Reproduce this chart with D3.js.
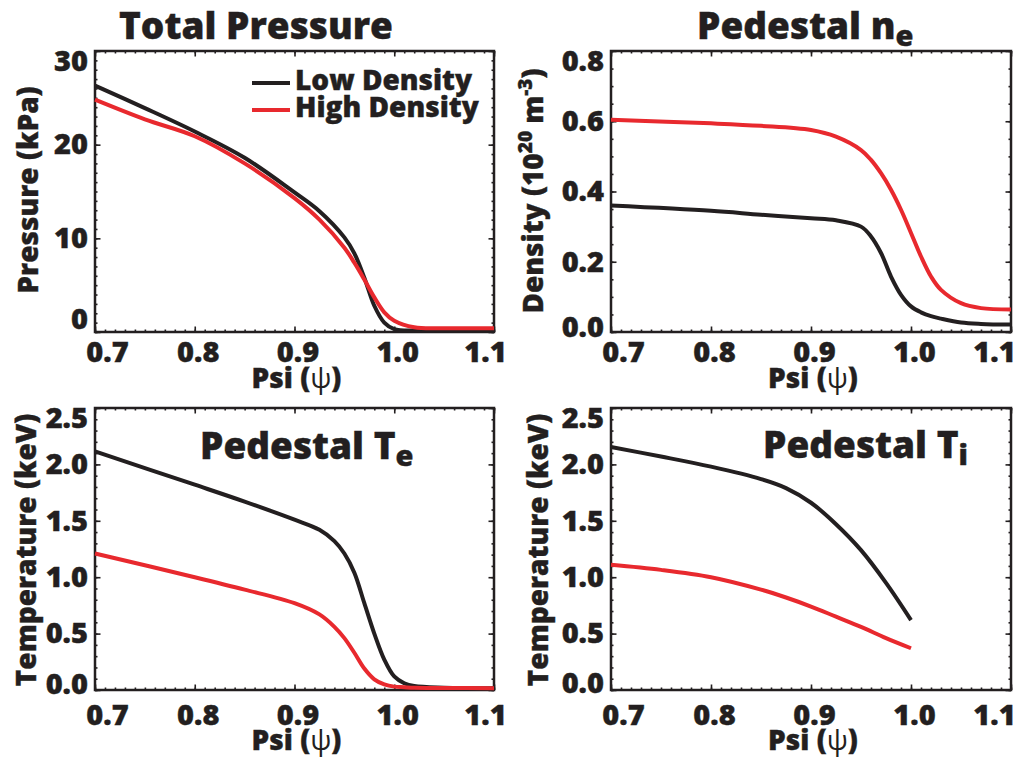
<!DOCTYPE html>
<html>
<head>
<meta charset="utf-8">
<style>
  body { margin: 0; background: #fff; }
  svg { display: block; font-family: 'Open Sans', sans-serif; font-weight: 800; fill: #231f20; }
  text { stroke: #231f20; stroke-width: 0.4; }
  .frame { fill: none; stroke: #231f20; stroke-width: 2.5; }
  .tick line { stroke: #231f20; stroke-width: 1.6; }
  .tick text { fill: #231f20; font-size: 29px; font-weight: 800; }
  .curve { fill: none; stroke-width: 4; stroke-linejoin: round; }
  .title { font-size: 37px; }
  .label { font-size: 28px; }
</style>
</head>
<body>
<svg width="1017" height="759"></svg>

<script src="https://d3js.org/d3.v7.min.js"></script>
<script>
    // ---- data ----
    const xTicks = [0.7, 0.8, 0.9, 1.0, 1.1];

    // total pressure (kPa)
    const psiPressure  = [0.70, 0.75, 0.80, 0.85, 0.90, 0.925, 0.95, 0.96, 0.97, 0.98, 0.99, 1.00, 1.02, 1.05, 1.10];
    const pressureLow  = [26.3, 23.9, 21.4, 18.6, 14.9, 12.9, 10.1, 8.4, 5.8, 2.8, 1.0, 0.3, 0.15, 0.2, 0.3];
    const pressureHigh = [24.8, 22.7, 20.9, 18.0, 14.3, 12.0, 9.0, 7.4, 5.6, 3.7, 2.1, 1.2, 0.5, 0.4, 0.4];
    const pressureTicks = [0, 10, 20, 30];

    // pedestal density (1e20 m^-3)
    const psiDensity  = [0.70, 0.80, 0.85, 0.90, 0.925, 0.95, 0.96, 0.97, 0.98, 0.99, 1.00, 1.01, 1.02, 1.03, 1.05, 1.07, 1.10];
    const densityLow  = [0.360, 0.345, 0.334, 0.324, 0.318, 0.300, 0.272, 0.225, 0.158, 0.106, 0.073, 0.056, 0.045, 0.038, 0.027, 0.023, 0.021];
    const densityHigh = [0.604, 0.594, 0.587, 0.575, 0.556, 0.518, 0.490, 0.452, 0.405, 0.348, 0.282, 0.215, 0.158, 0.120, 0.082, 0.068, 0.064];
    const densityTicks = [0.0, 0.2, 0.4, 0.6, 0.8];

    // pedestal Te (keV)
    const psiTe  = [0.70, 0.80, 0.85, 0.90, 0.925, 0.94, 0.95, 0.96, 0.97, 0.98, 0.99, 1.00, 1.01, 1.02, 1.05, 1.10];
    const teLow  = [2.115, 1.82, 1.67, 1.51, 1.42, 1.32, 1.21, 1.04, 0.77, 0.50, 0.27, 0.12, 0.06, 0.035, 0.02, 0.015];
    const teHigh = [1.21, 1.00, 0.89, 0.77, 0.67, 0.56, 0.46, 0.33, 0.19, 0.095, 0.05, 0.03, 0.025, 0.02, 0.018, 0.015];

    // pedestal Ti (keV)
    const psiTi  = [0.70, 0.75, 0.80, 0.85, 0.875, 0.90, 0.925, 0.95, 0.975, 1.00];
    const tiLow  = [2.154, 2.07, 1.98, 1.87, 1.79, 1.66, 1.47, 1.24, 0.95, 0.62];
    const tiHigh = [1.11, 1.065, 1.00, 0.89, 0.82, 0.74, 0.65, 0.56, 0.46, 0.37];
    const tempTicks = [0.0, 0.5, 1.0, 1.5, 2.0, 2.5];

    const seriesNames = ["Low Density", "High Density"];
    const colors = ["#231f20", "#e8292e"];

    let svg = d3.select("svg");

    function zip(xs, ys) {
        return xs.map((v, i) => ({ psi: v, val: ys[i] }));
    }

    let panels = [
        { left: 95, top: 51, right: 494, bottom: 332, yDomain: [0, 30], yTicks: pressureTicks, yMinor: 1,
          fmt: d3.format("d"), xPad: 9, topShift: 10, botShift: -13, xTitleY: 388,
          psi: psiPressure, low: pressureLow, high: pressureHigh },
        { left: 611, top: 51, right: 1011, bottom: 332, yDomain: [0, 0.8], yTicks: densityTicks, yMinor: 0.05,
          fmt: d3.format(".1f"), xPad: 9, topShift: 10, botShift: -5, xTitleY: 388,
          psi: psiDensity, low: densityLow, high: densityHigh },
        { left: 95, top: 408, right: 494, bottom: 690, yDomain: [0, 2.5], yTicks: tempTicks, yMinor: 0.1,
          fmt: d3.format(".1f"), xPad: 14, topShift: 10, botShift: -6, xTitleY: 750,
          psi: psiTe, low: teLow, high: teHigh },
        { left: 611, top: 408, right: 1011, bottom: 690, yDomain: [0, 2.5], yTicks: tempTicks, yMinor: 0.1,
          fmt: d3.format(".1f"), xPad: 14, topShift: 10, botShift: -7, xTitleY: 750,
          psi: psiTi, low: tiLow, high: tiHigh }
    ];

    panels.forEach((p, pi) => {
        let x = d3.scaleLinear().domain([0.7, 1.1]).range([p.left, p.right]);
        let y = d3.scaleLinear().domain(p.yDomain).range([p.bottom, p.top]);

        let xMinor = d3.range(70, 111).map(d => d / 100);
        let nY = Math.round((p.yDomain[1] - p.yDomain[0]) / p.yMinor);
        let yMinor = d3.range(0, nY + 1).map(i => p.yDomain[0] + i * p.yMinor);

        // minor ticks on all four sides
        svg.append("g").attr("transform", `translate(0,${p.bottom})`)
            .call(d3.axisBottom(x).tickValues(xMinor).tickSize(-2.5).tickFormat(""));
        svg.append("g").attr("transform", `translate(0,${p.top})`)
            .call(d3.axisTop(x).tickValues(xMinor).tickSize(-2.5).tickFormat(""));
        svg.append("g").attr("transform", `translate(${p.left},0)`)
            .call(d3.axisLeft(y).tickValues(yMinor).tickSize(-2.5).tickFormat(""));
        svg.append("g").attr("transform", `translate(${p.right},0)`)
            .call(d3.axisRight(y).tickValues(yMinor).tickSize(-2.5).tickFormat(""));

        // major ticks
        let xb = svg.append("g").attr("transform", `translate(0,${p.bottom})`)
            .call(d3.axisBottom(x).tickValues(xTicks).tickSize(-5.5).tickPadding(p.xPad).tickFormat(d3.format(".1f")));
        svg.append("g").attr("transform", `translate(0,${p.top})`)
            .call(d3.axisTop(x).tickValues(xTicks).tickSize(-5.5).tickFormat(""));
        let yl = svg.append("g").attr("transform", `translate(${p.left},0)`)
            .call(d3.axisLeft(y).tickValues(p.yTicks).tickSize(-5.5).tickPadding(7).tickFormat(p.fmt));
        svg.append("g").attr("transform", `translate(${p.right},0)`)
            .call(d3.axisRight(y).tickValues(p.yTicks).tickSize(-5.5).tickFormat(""));

        svg.selectAll(".domain").remove();
        svg.selectAll("g").attr("font-family", null).attr("font-size", null);

        // nudge end labels the way the figure has them
        xb.selectAll(".tick text").attr("dx", d => d === 0.7 ? 12 : (d === 1.1 ? (pi % 2 ? -17 : -9) : 3));
        let lo = p.yTicks[0], hi = p.yTicks[p.yTicks.length - 1];
        yl.selectAll(".tick text").attr("y", d => d === hi ? p.topShift : (d === lo ? p.botShift : 0));

        // frame
        svg.append("rect").attr("class", "frame")
            .attr("x", p.left).attr("y", p.top)
            .attr("width", p.right - p.left).attr("height", p.bottom - p.top);

        let line = d3.line()
            .x(d => x(d.psi))
            .y(d => y(d.val))
            .curve(d3.curveCatmullRom.alpha(0.5));

        [p.low, p.high].forEach((vals, si) => {
            svg.append("path")
                .datum(zip(p.psi, vals))
                .attr("class", "curve")
                .attr("d", line)
                .style("stroke", colors[si]);
        });

        // x axis title
        let xt = svg.append("text").attr("class", "label")
            .attr("x", (p.left + p.right) / 2 + 2)
            .attr("y", p.xTitleY)
            .attr("text-anchor", "middle");
        xt.append("tspan").text("Psi (");
        xt.append("tspan").style("font-weight", 400).style("stroke-width", 0).text("\u03c8");
        xt.append("tspan").text(")");
    });

    // y axis titles
    function yTitle(xpos, ycen) {
        return svg.append("text").attr("class", "label")
            .attr("text-anchor", "middle")
            .attr("transform", `translate(${xpos},${ycen}) rotate(-90)`);
    }
    yTitle(38, 190).text("Pressure (kPa)");
    let dt = yTitle(543, 191);
    dt.append("tspan").text("Density (10");
    dt.append("tspan").attr("dy", -11).style("font-size", "19px").text("20");
    dt.append("tspan").attr("dy", 11).text(" m");
    dt.append("tspan").attr("dy", -11).style("font-size", "19px").text("-3");
    dt.append("tspan").attr("dy", 11).text(")");
    yTitle(36, 550).text("Temperature (keV)");
    yTitle(548, 550).text("Temperature (keV)");

    // panel titles
    svg.append("text").attr("class", "title").attr("x", 256).attr("y", 39)
        .attr("text-anchor", "middle").text("Total Pressure");

    function subTitle(xpos, ypos, main, sub) {
        let t = svg.append("text").attr("class", "title").attr("x", xpos).attr("y", ypos);
        t.append("tspan").text(main);
        t.append("tspan").attr("dy", 7).style("font-size", "29px").text(sub);
    }
    subTitle(697, 39, "Pedestal n", "e");
    subTitle(200, 459, "Pedestal T", "e");
    subTitle(763, 458, "Pedestal T", "i");

    // legend
    let legendY = [83, 110];
    seriesNames.forEach((name, i) => {
        svg.append("line")
            .attr("x1", 252).attr("x2", 290)
            .attr("y1", legendY[i]).attr("y2", legendY[i])
            .style("stroke", colors[i]).style("stroke-width", 4);
        svg.append("text").attr("class", "label")
            .attr("x", 295).attr("y", legendY[i] + 7)
            .text(name);
    });
</script>
</body>
</html>
